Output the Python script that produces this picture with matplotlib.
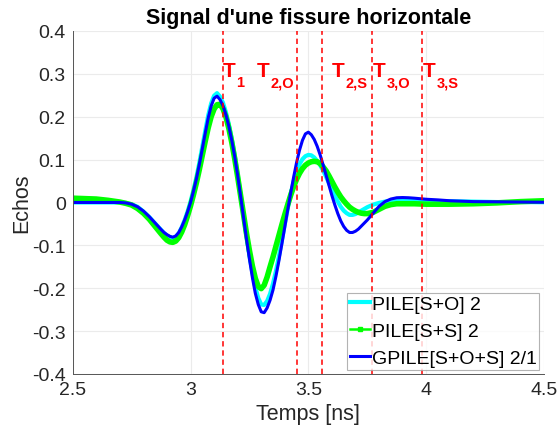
import matplotlib
matplotlib.use('Agg')
import matplotlib.pyplot as plt
from matplotlib.lines import Line2D

plt.rcParams['font.family'] = ['Liberation Sans', 'DejaVu Sans']
plt.rcParams['axes.unicode_minus'] = False

# time axis [ns]
t = [2.5, 2.55, 2.6, 2.65, 2.7, 2.725, 2.75, 2.775, 2.8, 2.825, 2.85, 2.875,
     2.8875, 2.9, 2.9125, 2.925, 2.9375, 2.95, 2.9625, 2.975, 2.9875, 3.0,
     3.0125, 3.025, 3.0375, 3.05, 3.0625, 3.075, 3.0875, 3.1, 3.1125, 3.125,
     3.1375, 3.15, 3.1625, 3.175, 3.1875, 3.2, 3.2125, 3.225, 3.2375, 3.25,
     3.2625, 3.275, 3.2875, 3.3, 3.3125, 3.325, 3.3375, 3.35, 3.3625, 3.375,
     3.3875, 3.4, 3.4125, 3.425, 3.4375, 3.45, 3.4625, 3.475, 3.4875, 3.5,
     3.5125, 3.525, 3.5375, 3.55, 3.5625, 3.575, 3.5875, 3.6, 3.6125, 3.625,
     3.6375, 3.65, 3.6625, 3.675, 3.6875, 3.7, 3.7125, 3.725, 3.7375, 3.75,
     3.775, 3.8, 3.825, 3.85, 3.875, 3.9, 3.925, 3.95, 4.0, 4.05, 4.1, 4.2, 4.3, 4.4, 4.5]

# PILE[S+O] 2
pile_so = [0.0, 0.0, 0.0, 0.0, 0.0, -0.001, -0.004, -0.010, -0.021, -0.034, -0.049, -0.064,
           -0.071, -0.077, -0.081, -0.083, -0.080, -0.072, -0.058, -0.041, -0.021, 0.002,
           0.029, 0.059, 0.093, 0.130, 0.167, 0.203, 0.231, 0.249, 0.255, 0.247,
           0.233, 0.211, 0.183, 0.149, 0.110, 0.065, 0.017, -0.032, -0.080, -0.124,
           -0.163, -0.198, -0.223, -0.238, -0.239, -0.230, -0.213, -0.189, -0.160, -0.126,
           -0.089, -0.051, -0.014, 0.020, 0.049, 0.072, 0.089, 0.101, 0.108, 0.111,
           0.110, 0.105, 0.097, 0.087, 0.075, 0.060, 0.045, 0.030, 0.015, 0.002,
           -0.010, -0.019, -0.025, -0.029, -0.029, -0.027, -0.023, -0.019, -0.015, -0.011,
           -0.005, -0.001, 0.002, 0.004, 0.005, 0.005, 0.005, 0.005, 0.004, 0.003, 0.003, 0.002, 0.001, 0.001, 0.0005]

# PILE[S+S] 2
pile_ss = [0.010, 0.009, 0.008, 0.005, 0.001, -0.002, -0.006, -0.014, -0.025, -0.039, -0.056, -0.073,
           -0.081, -0.088, -0.092, -0.093, -0.090, -0.082, -0.069, -0.052, -0.031, -0.008,
           0.018, 0.046, 0.077, 0.110, 0.143, 0.174, 0.200, 0.218, 0.228, 0.229,
           0.219, 0.200, 0.173, 0.140, 0.102, 0.060, 0.016, -0.028, -0.072, -0.112,
           -0.148, -0.177, -0.196, -0.201, -0.193, -0.174, -0.150, -0.127, -0.102, -0.077,
           -0.052, -0.028, -0.005, 0.017, 0.037, 0.054, 0.068, 0.079, 0.087, 0.092,
           0.095, 0.096, 0.095, 0.091, 0.083, 0.074, 0.062, 0.049, 0.036, 0.024,
           0.013, 0.004, -0.004, -0.011, -0.016, -0.020, -0.023, -0.025, -0.026, -0.026,
           -0.023, -0.016, -0.009, -0.005, -0.003, -0.003, -0.003, -0.003, -0.004, -0.004, -0.004, -0.003, -0.001, 0.002, 0.004]

# GPILE[S+O+S] 2/1
gpile = [0.0, 0.0, 0.0, 0.0, 0.0, -0.001, -0.004, -0.010, -0.020, -0.033, -0.048, -0.063,
         -0.070, -0.075, -0.079, -0.081, -0.078, -0.070, -0.057, -0.041, -0.022, 0.000,
         0.026, 0.055, 0.089, 0.125, 0.162, 0.197, 0.225, 0.243, 0.248, 0.240,
         0.226, 0.205, 0.178, 0.145, 0.107, 0.063, 0.015, -0.035, -0.085, -0.132,
         -0.175, -0.212, -0.238, -0.255, -0.257, -0.246, -0.228, -0.204, -0.172, -0.136,
         -0.097, -0.057, -0.017, 0.022, 0.059, 0.093, 0.122, 0.145, 0.160, 0.164,
         0.158, 0.147, 0.131, 0.111, 0.088, 0.064, 0.040, 0.016, -0.006, -0.026,
         -0.043, -0.056, -0.065, -0.070, -0.070, -0.067, -0.062, -0.055, -0.048, -0.041,
         -0.025, -0.009, 0.002, 0.008, 0.011, 0.0115, 0.011, 0.010, 0.0075, 0.006, 0.004, 0.002, 0.0015, 0.001, 0.0005]

# arrival times (red dashed lines)
t_marks = [3.136, 3.453, 3.557, 3.769, 3.982]
t_main = ['T', 'T', 'T', 'T', 'T']
t_subs = ['1', '2,O', '2,S', '3,O', '3,S']
t_text_x = [3.136, 3.281, 3.600, 3.774, 3.986]

fig = plt.figure(figsize=(5.57, 4.35), dpi=100)
ax = fig.add_axes([0.1305, 0.138, 0.8462, 0.7885])

ax.plot(t, pile_so, color='#00ffff', lw=3.0, label='PILE[S+O] 2')
ax.plot(t, pile_ss, color='#00ff00', lw=4.0, label='PILE[S+S] 2')
ax.plot(t, gpile, color='#0000ff', lw=2.2, label='GPILE[S+O+S] 2/1')

for xm in t_marks:
    ax.axvline(xm, color='red', ls=(0, (3.5, 2.5)), lw=1.1, zorder=5)

for xt, m, s in zip(t_text_x, t_main, t_subs):
    ax.text(xt, 0.294, m, color='red', fontsize=15, fontweight='bold', va='baseline', ha='left')
    ax.annotate(s, (xt, 0.294), xytext=(9.6, -7), textcoords='offset points',
                color='red', fontsize=10.5, fontweight='bold', va='baseline', ha='left')

ax.set_xlim(2.5, 4.5)
ax.set_ylim(-0.4, 0.4)
ax.set_xticks([2.5, 3, 3.5, 4, 4.5])
ax.set_xticklabels(['2.5', '3', '3.5', '4', '4.5'])
ax.set_yticks([-0.4, -0.3, -0.2, -0.1, 0, 0.1, 0.2, 0.3, 0.4])
ax.set_yticklabels(['-0.4', '-0.3', '-0.2', '-0.1', '0', '0.1', '0.2', '0.3', '0.4'])
ax.tick_params(labelsize=14, colors='#262626', direction='in', length=0, pad=5)
ax.grid(True, color='#ebebeb', lw=0.8)
ax.set_axisbelow(True)
for side in ['top', 'right']:
    ax.spines[side].set_visible(False)
for side in ['left', 'bottom']:
    ax.spines[side].set_color('#555555')
    ax.spines[side].set_linewidth(0.7)

ax.set_xlabel('Temps [ns]', fontsize=15.5, color='#262626', labelpad=4)
ax.set_ylabel('Echos', fontsize=15.5, color='#262626', labelpad=0)
ax.set_title("Signal d'une fissure horizontale", fontsize=15.5, fontweight='bold', pad=6)

handles = [Line2D([], [], color='#00ffff', lw=3.0),
           Line2D([], [], color='#00ff00', lw=1.8, marker='s', markersize=3),
           Line2D([], [], color='#0000ff', lw=2.2)]
labels = ['PILE[S+O] 2', 'PILE[S+S] 2', 'GPILE[S+O+S] 2/1']
leg = ax.legend(handles, labels, loc='lower right', bbox_to_anchor=(0.99, 0.012),
                borderaxespad=0, fontsize=14, frameon=True, fancybox=False,
                edgecolor='#a0a0a0', handlelength=1.0, handletextpad=0.1,
                labelspacing=0.48, borderpad=0.15)
leg.get_frame().set_linewidth(0.8)
leg.set_zorder(10)

fig.savefig('out.png', dpi=100)
